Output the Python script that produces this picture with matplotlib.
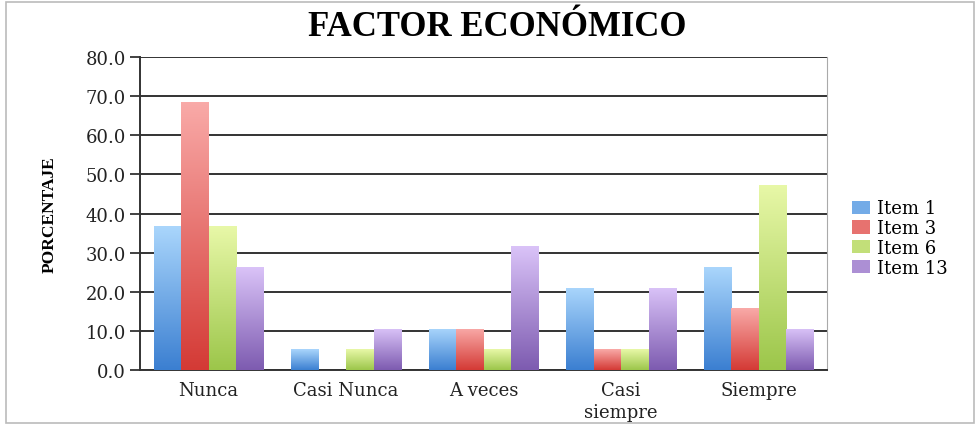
from matplotlib import pyplot as plt
from matplotlib.colors import LinearSegmentedColormap
from matplotlib.patches import Rectangle
import numpy as np

categories = ['Nunca', 'Casi Nunca', 'A veces', 'Casi\nsiempre', 'Siempre']
series = ['Item 1', 'Item 3', 'Item 6', 'Item 13']
item1 = [36.8, 5.3, 10.5, 21.1, 26.3]
item3 = [68.4, 0.0, 10.5, 5.3, 15.8]
item6 = [36.8, 5.3, 5.3, 5.3, 47.4]
item13 = [26.3, 10.5, 31.6, 21.1, 10.5]

# (top colour, bottom colour) for the gradient fill
colors = [('#aad6fc', '#3b7fd1'),
          ('#f9aaa8', '#d43a35'),
          ('#e8f8a8', '#9cc64a'),
          ('#dac3f8', '#7d5bb0')]

fig = plt.figure(figsize=(9.78, 4.27), dpi=100)
ax = fig.add_axes([0.143, 0.131, 0.703, 0.733])

x = np.arange(len(categories))
width = 0.2
values = [item1, item3, item6, item13]
handles = []
for i, (label, vals) in enumerate(zip(series, values)):
    top, bot = colors[i]
    bars = ax.bar(x + (i - 1.5) * width, vals, width, color=(0, 0, 0, 0),
                  label=label, zorder=3)
    cmap = LinearSegmentedColormap.from_list('g%d' % i, [bot, top])
    grad = np.linspace(0, 1, 256).reshape(-1, 1)
    for b in bars:
        if b.get_height() <= 0:
            continue
        x0, y0 = b.get_x(), b.get_y()
        im = ax.imshow(grad, cmap=cmap, origin='lower', aspect='auto',
                       extent=[x0, x0 + b.get_width(), y0, y0 + b.get_height()],
                       zorder=3)
        im.set_clip_path(b)
    handles.append(Rectangle((0, 0), 1, 1, facecolor=cmap(0.5)))

ax.set_xlim(-0.5, len(categories) - 0.5)
ax.set_ylim(0, 80)
ax.set_yticks(np.arange(0, 81, 10))
ax.set_yticklabels(['%.1f' % v for v in np.arange(0, 81, 10)],
                   family='DejaVu Serif', fontsize=13, color='#222222')
ax.set_xticks(x)
ax.set_xticklabels(categories, family='DejaVu Serif', fontsize=13,
                   color='#222222', linespacing=1.3)
ax.tick_params(axis='x', length=0, pad=8)
ax.tick_params(axis='y', length=7, width=1.3, color='#333333', pad=3)
ax.yaxis.grid(True, color='#333333', linewidth=1.4, zorder=0)
ax.set_axisbelow(True)
ax.spines['left'].set_linewidth(1.4)
ax.spines['left'].set_color('#333333')
ax.spines['bottom'].set_linewidth(1.4)
ax.spines['bottom'].set_color('#333333')
ax.spines['top'].set_visible(False)
ax.spines['right'].set_color('#aaaaaa')

ax.set_ylabel('PORCENTAJE', family='Liberation Serif', fontweight='bold',
              fontsize=12.5, labelpad=20)
fig.text(0.508, 0.935, 'FACTOR ECONÓMICO', family='Liberation Serif',
         fontweight='bold', fontsize=25, ha='center', va='center')

fig.legend(handles, series, loc='center left', bbox_to_anchor=(0.871, 0.44),
           frameon=False, prop={'family': 'DejaVu Serif', 'size': 13},
           handlelength=1.0, handleheight=0.75, handletextpad=0.4,
           labelspacing=0.1, borderpad=0, borderaxespad=0)

fig.add_artist(Rectangle((0.006, 0.008), 0.99, 0.985, transform=fig.transFigure,
                         fill=False, edgecolor='#bbbbbb', linewidth=1.2))

plt.savefig('out.png', dpi=100)
